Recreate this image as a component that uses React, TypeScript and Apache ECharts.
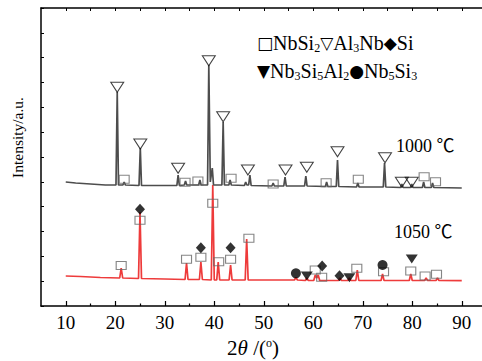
import React, { useEffect, useRef } from "react";
import * as echarts from "echarts";

// 2θ (deg) vs intensity (arbitrary units; each pattern offset vertically)
const pattern1000: [number, number][] = [
  [10, 124], [12, 123], [15, 122], [18, 121],
  [20.15, 121], [20.4, 214], [20.65, 121],
  [21.55, 121], [21.8, 124], [22.05, 121],
  [24.8, 120.5], [25.06, 158], [25.3, 120.5],
  [28, 120.5], [32.45, 120.5], [32.7, 131], [32.95, 120.5],
  [33.95, 121], [34.2, 125], [34.45, 121],
  [36.85, 121], [37.1, 126], [37.35, 121],
  [38.65, 121], [38.9, 241], [39.2, 124], [39.6, 138], [39.85, 121],
  [41.55, 121], [41.8, 184], [42.05, 121],
  [42.95, 121], [43.2, 126], [43.45, 121],
  [46.1, 120.5], [46.35, 124], [46.6, 121], [46.95, 121], [47.2, 131], [47.45, 120.5],
  [51.65, 120], [51.9, 123], [52.15, 120],
  [54.05, 120], [54.3, 129], [54.55, 120],
  [58.25, 120], [58.5, 130], [58.75, 120],
  [62.45, 119.5], [62.7, 124], [62.95, 119.5],
  [64.65, 119.5], [64.9, 146], [65.15, 119.5],
  [68.75, 119], [69, 123], [69.25, 119],
  [74.15, 119], [74.4, 143], [74.65, 119],
  [77.65, 118.5], [77.9, 122], [78.15, 118.5],
  [79.65, 118.5], [79.9, 122], [80.15, 118.5],
  [82.05, 118.5], [82.3, 124], [82.55, 118.5],
  [83.85, 118.5], [84.1, 123], [84.35, 118.5],
  [90, 118],
];

const pattern1050: [number, number][] = [
  [10, 30], [13, 29.5], [17, 28.5],
  [20.9, 28], [21.2, 38], [21.5, 28],
  [24.7, 27.5], [25, 94], [25.3, 27.5],
  [30, 27], [34.1, 26.5], [34.4, 43], [34.7, 26.5],
  [37.0, 26.5], [37.3, 44], [37.6, 26.5],
  [39.4, 26], [39.7, 121], [40.0, 26],
  [40.5, 26], [40.8, 44], [41.1, 26],
  [43.0, 26], [43.3, 41], [43.6, 26],
  [46.25, 26], [46.55, 67], [46.85, 26],
  [50, 26], [56.2, 26], [56.5, 28.5], [56.8, 26],
  [58.4, 25.5], [58.7, 28], [59.0, 25.5],
  [60.1, 25.5], [60.4, 31], [60.7, 28], [61.0, 31], [61.3, 25.5],
  [65.1, 25.5], [65.4, 28], [65.7, 25.5],
  [67.0, 25.5], [67.3, 28], [67.6, 25.5],
  [68.6, 25.5], [68.9, 36], [69.2, 25.5],
  [73.7, 25.5], [74, 32], [74.3, 25.5],
  [79.4, 25.5], [79.7, 32], [80.0, 25.5],
  [82.5, 25.5], [82.8, 28], [83.1, 25.5],
  [84.8, 25.5], [85.1, 28], [85.4, 25.5],
  [90, 25.3],
];

// phase markers: [2θ, marker height]
const al3nbMarks: [number, number][] = [
  [20.4, 218.7], [25.06, 162], [32.7, 137.7], [38.9, 245.3], [41.8, 189.3],
  [46.8, 136], [54.4, 136], [58.7, 138.7], [64.9, 154.3], [74.5, 148.3],
  [77.9, 123.7], [79.9, 123.7],
];
const nbsi2Marks1000: [number, number][] = [
  [21.8, 126.7], [34.1, 123.7], [36.7, 125], [43.4, 127.7], [51.9, 122],
  [62.6, 123.3], [69.1, 126.7], [82.4, 129.3], [84.7, 124.3],
];
const nbsi2Marks1050: [number, number][] = [
  [21.2, 40.5], [25.0, 85.7], [34.4, 46.7], [37.3, 48.7], [39.7, 102.7],
  [40.9, 44.3], [43.3, 46.7], [47.0, 67.7], [60.4, 36], [61.7, 28.7],
  [68.8, 37.7], [74.2, 34.3], [79.7, 35], [82.6, 30], [84.9, 31.7],
];
const siMarks: [number, number][] = [
  [25.0, 96.7], [37.3, 58.3], [43.3, 58.3], [61.8, 40], [65.3, 30.3],
];
const nb5si3Marks: [number, number][] = [[56.5, 32.7], [74.0, 41]];
const nb3si5al2Marks: [number, number][] = [[58.7, 30], [67.3, 28.3], [79.9, 47]];

const xMajorTicks = [10, 20, 30, 40, 50, 60, 70, 80, 90];
const xMinorTicks = [15, 25, 35, 45, 55, 65, 75, 85];
const xAllTicks = [10, 15, 20, 25, 30, 35, 40, 45, 50, 55, 60, 65, 70, 75, 80, 85, 90, 95];

const SERIF = '"Liberation Serif", "Times New Roman", serif';

export default function App() {
  const ref = useRef<HTMLDivElement>(null);
  useEffect(() => {
    if (!ref.current) return;
    const chart = echarts.init(ref.current, undefined, { renderer: "svg" });
    const axisLine = { show: true, lineStyle: { color: "#000", width: 1.5 } };
    const openTri = {
      type: "scatter",
      symbol: "triangle",
      symbolRotate: 180,
      symbolSize: [13, 10],
      itemStyle: { color: "rgba(255,255,255,0)", borderColor: "#111", borderWidth: 1 },
      z: 5,
    };
    const openSq = {
      type: "scatter",
      symbol: "rect",
      symbolSize: [10, 8],
      itemStyle: { color: "rgba(255,255,255,0)", borderColor: "#666", borderWidth: 1 },
      z: 5,
    };
    const sub = { fontSize: 12, fontFamily: SERIF, verticalAlign: "bottom", lineHeight: 7 };
    const sym = { fontSize: 17, fontFamily: '"DejaVu Sans"', lineHeight: 22 };
    const legendRich = { sub, s: sym };
    chart.setOption({
      animation: false,
      backgroundColor: "#fff",
      grid: { left: 41, top: 8, width: 445.5, height: 298 },
      xAxis: [
        {
          type: "value", min: 5, max: 95, position: "bottom",
          axisLine,
          splitLine: { show: false },
          axisTick: { show: true, inside: true, length: 5, customValues: xMajorTicks, lineStyle: { color: "#000", width: 1.2 } },
          axisLabel: {
            show: true, customValues: xMajorTicks, margin: 7,
            fontSize: 19, fontFamily: SERIF, color: "#000",
          },
        },
        {
          type: "value", min: 5, max: 95, position: "bottom",
          axisLine: { show: false },
          splitLine: { show: false },
          axisTick: { show: true, inside: true, length: 2.5, customValues: xMinorTicks, lineStyle: { color: "#000", width: 1.2 } },
          axisLabel: { show: false },
        },
        {
          type: "value", min: 5, max: 95, position: "top",
          axisLine,
          splitLine: { show: false },
          axisTick: { show: true, inside: true, length: 3, customValues: xAllTicks, lineStyle: { color: "#000", width: 1 } },
          axisLabel: { show: false },
        },
      ],
      yAxis: [
        {
          type: "value", min: 0, max: 298, interval: 298 / 12, position: "left",
          axisLine,
          splitLine: { show: false },
          axisTick: { show: true, inside: true, length: 3, lineStyle: { color: "#000", width: 1 } },
          axisLabel: { show: false },
        },
        {
          type: "value", min: 0, max: 298, interval: 298 / 12, position: "right",
          axisLine,
          splitLine: { show: false },
          axisTick: { show: false },
          axisLabel: { show: false },
        },
      ],
      series: [
        {
          type: "line", data: pattern1050, showSymbol: false, symbol: "none",
          lineStyle: { color: "#ee3b3b", width: 1.7 }, z: 2,
        },
        {
          type: "line", data: pattern1000, showSymbol: false, symbol: "none",
          lineStyle: { color: "#4d4d4d", width: 1.7 }, z: 3,
        },
        { ...openTri, data: al3nbMarks },
        { ...openSq, data: nbsi2Marks1000 },
        { ...openSq, data: nbsi2Marks1050 },
        {
          type: "scatter", data: siMarks, symbol: "diamond", symbolSize: [10, 11],
          itemStyle: { color: "#000" }, z: 5,
        },
        {
          type: "scatter", data: nb5si3Marks, symbol: "circle", symbolSize: 10,
          itemStyle: { color: "#000" }, z: 5,
        },
        {
          type: "scatter", data: nb3si5al2Marks, symbol: "triangle", symbolRotate: 180,
          symbolSize: [12, 9], itemStyle: { color: "#000" }, z: 5,
        },
      ],
      graphic: [
        {
          type: "text", x: 257, y: 43,
          style: {
            text: "{s|□}NbSi{sub|2}{s|▽}Al{sub|3}Nb{s|◆}Si",
            rich: legendRich, fontSize: 20, fontFamily: SERIF, fill: "#000",
            textAlign: "left", textVerticalAlign: "middle", lineHeight: 22,
          },
        },
        {
          type: "text", x: 257, y: 71,
          style: {
            text: "{s|▼}Nb{sub|3}Si{sub|5}Al{sub|2}{s|●}Nb{sub|5}Si{sub|3}",
            rich: legendRich, fontSize: 20, fontFamily: SERIF, fill: "#000",
            textAlign: "left", textVerticalAlign: "middle", lineHeight: 22,
          },
        },
        {
          type: "text", x: 396, y: 146,
          style: {
            text: "1000 ℃", fontSize: 18, fontFamily: '"Liberation Serif", "Noto Sans CJK SC"',
            fill: "#000", textAlign: "left", textVerticalAlign: "middle",
          },
        },
        {
          type: "text", x: 394, y: 232,
          style: {
            text: "1050 ℃", fontSize: 18, fontFamily: '"Liberation Serif", "Noto Sans CJK SC"',
            fill: "#000", textAlign: "left", textVerticalAlign: "middle",
          },
        },
        {
          type: "text", x: 253, y: 348,
          style: {
            text: "2{i|θ}{n| /(}{sup|o}{n|)}",
            rich: {
              i: { fontStyle: "italic", fontSize: 21, fontFamily: SERIF, lineHeight: 22 },
              n: { fontSize: 21, fontFamily: SERIF, lineHeight: 22 },
              sup: { fontSize: 12, fontFamily: SERIF, verticalAlign: "top", lineHeight: 12 },
            },
            fontSize: 21, fontFamily: SERIF, fill: "#000",
            textAlign: "center", textVerticalAlign: "middle", lineHeight: 22,
          },
        },
        {
          type: "text", x: 17, y: 137.5, rotation: Math.PI / 2,
          style: {
            text: "Intensity/a.u.", fontSize: 15.5, fontFamily: SERIF, fill: "#000",
            textAlign: "center", textVerticalAlign: "middle",
          },
        },
      ],
    });
    return () => chart.dispose();
  }, []);
  return (
    <div style={{ position: "absolute", left: 0, top: 0, width: 482, height: 361, overflow: "hidden", background: "#fff" }}>
      <div ref={ref} style={{ width: 490, height: 361 }} />
    </div>
  );
}
